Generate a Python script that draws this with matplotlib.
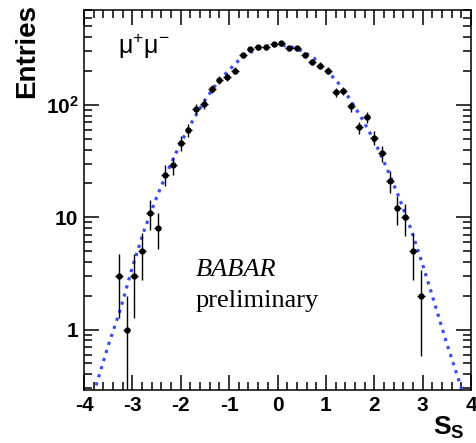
import numpy as np
import matplotlib.pyplot as plt
from matplotlib.ticker import FixedLocator, LogLocator, MultipleLocator, NullFormatter

plt.rcParams['mathtext.fontset'] = 'custom'
plt.rcParams['mathtext.rm'] = 'Liberation Sans'
plt.rcParams['mathtext.bf'] = 'Liberation Sans:bold'
plt.rcParams['axes.unicode_minus'] = False

# bin centres (width 0.16) and entries
s_s = [-3.28, -3.12, -2.96, -2.80, -2.64, -2.48, -2.32, -2.16, -2.00, -1.84,
       -1.68, -1.52, -1.36, -1.20, -1.04, -0.88, -0.72, -0.56, -0.40, -0.24,
       -0.08, 0.08, 0.24, 0.40, 0.56, 0.72, 0.88, 1.04, 1.20, 1.36,
       1.52, 1.68, 1.84, 2.00, 2.16, 2.32, 2.48, 2.64, 2.80, 2.96]
entries = [3, 1, 3, 5, 11, 8, 24, 29, 46, 60,
           92, 102, 140, 168, 178, 202, 276, 312, 326, 326,
           348, 353, 319, 319, 277, 243, 224, 202, 130, 134,
           97, 63, 78, 51, 37, 21, 12, 10, 5, 2]

# fit curve, points
fit_x = [-3.8, -3.5, -3.25, -3.0, -2.75, -2.5, -2.25, -2.0, -1.75, -1.5, -1.25,
         -1.0, -0.75, -0.5, -0.25, 0.0, 0.25, 0.5, 0.75, 1.0, 1.25, 1.5,
         1.75, 2.0, 2.25, 2.5, 2.75, 3.0, 3.25, 3.5, 3.85]
fit_y = [0.27, 0.72, 1.5, 3.6, 7.8, 15, 27, 46, 73, 110, 157,
         205, 262, 303, 333, 343, 333, 303, 262, 207, 158, 112,
         75, 48, 28, 15.5, 8, 3.8, 1.7, 0.75, 0.26]

n = np.array(entries, dtype=float)
err = np.sqrt(n)
err_lo = np.minimum(err, n * 0.999)

fig = plt.figure(figsize=(4.76, 4.43), dpi=100)
ax = fig.add_axes([84/476, 53/443, 387/476, 380/443])

ax.plot(fit_x, fit_y, ':', color='#3a4cf5', lw=2.3)
ax.errorbar(s_s, n, yerr=[err_lo, err], xerr=0.08, fmt='o', color='black',
            ms=3.5, lw=1.0, capsize=0, zorder=3)

ax.set_yscale('log')
ax.set_xlim(-4, 4)
ax.set_ylim(0.29, 700)

ax.xaxis.set_major_locator(MultipleLocator(1))
ax.xaxis.set_minor_locator(MultipleLocator(0.2))
ax.yaxis.set_major_locator(FixedLocator([1, 10, 100]))
ax.yaxis.set_minor_locator(LogLocator(base=10, subs=np.arange(2, 10)))
ax.yaxis.set_minor_formatter(NullFormatter())
ax.set_yticklabels(['1', '10', r'$\mathbf{10^{2}}$'])

ax.tick_params(which='both', direction='in', top=True, right=True, width=1.1)
ax.tick_params(which='major', length=11, labelsize=15, pad=4)
ax.tick_params(which='minor', length=6)
for lab in ax.get_xticklabels() + ax.get_yticklabels():
    lab.set_fontfamily('Liberation Sans')
    lab.set_fontweight('bold')
for sp in ax.spines.values():
    sp.set_linewidth(1.1)

fig.text(27/476, 1 - 4/443, 'Entries', rotation=90, ha='center', va='top',
         fontsize=20, fontweight='bold', family='Liberation Sans')
fig.text(433/476, 1 - 428/443, r'$\mathbf{S_{S}}$', ha='left', va='center',
         fontsize=19)
ax.text(118/476, 1 - 46/443, 'μ$^{+}$μ$^{-}$', transform=fig.transFigure,
        ha='left', va='center', fontsize=18, family='Liberation Sans')
ax.text(196/476, 1 - 270/443, 'BABAR', transform=fig.transFigure, ha='left',
        va='center', fontsize=19, style='italic', family='Liberation Serif')
ax.text(196/476, 1 - 301/443, 'preliminary', transform=fig.transFigure,
        ha='left', va='center', fontsize=19, family='Liberation Serif')

fig.savefig('out.png', dpi=100)
